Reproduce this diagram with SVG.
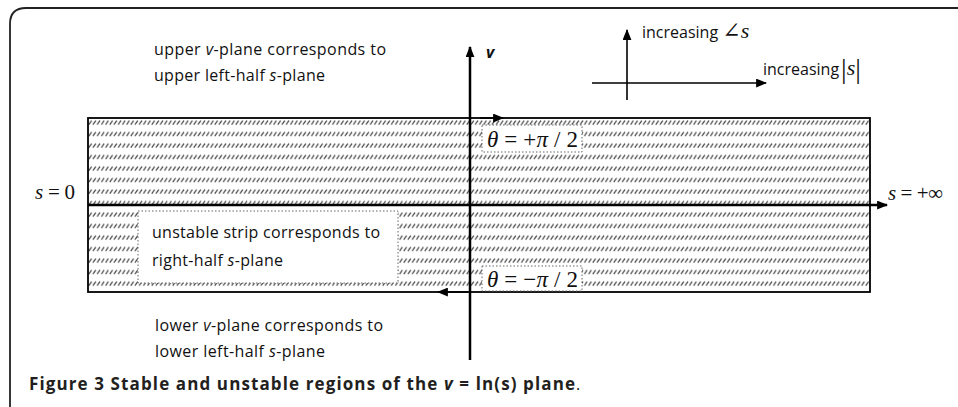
<svg xmlns="http://www.w3.org/2000/svg" width="958" height="407" viewBox="0 0 958 407">
<style>
.t{font-family:"Open Sans","Liberation Sans",sans-serif;font-size:16px;fill:#111}
.m{font-family:"Liberation Serif","DejaVu Serif",serif;fill:#111}
.i{font-style:italic}
.ax{stroke:#000;stroke-width:2.5;fill:none}
.ln{stroke:#000;stroke-width:1.6;fill:none}
.cap{font-family:"Open Sans","Liberation Sans",sans-serif;font-size:17px;font-weight:bold;fill:#231f20}
</style>
<defs>
<pattern id="hatch" patternUnits="userSpaceOnUse" x="0" y="118" width="4.2" height="11.5">
<line x1="0.6" y1="6.5" x2="3.4" y2="2.5" stroke="#444" stroke-width="1.2"/>
</pattern>
<marker id="ah" viewBox="0 0 10 8" refX="9" refY="4" markerWidth="11" markerHeight="9" markerUnits="userSpaceOnUse" orient="auto">
<path d="M0,0 L10,4 L0,8 Z" fill="#000"/>
</marker>
</defs>
<path d="M10 407 L10 24 Q10 8 26 8 L958 8" fill="none" stroke="#222" stroke-width="1.8"/>
<g id="strip">
<rect x="88" y="118" width="782" height="174" fill="url(#hatch)" stroke="#000" stroke-width="1.8"/>
</g>
<g id="unstable-label">
<rect x="138" y="211" width="260" height="72" fill="#fff" stroke="#666" stroke-width="1" stroke-dasharray="1.5 2"/>
<text class="t" x="152" y="238" textLength="228">unstable strip corresponds to</text>
<text class="t" x="152" y="266" textLength="131">right-half <tspan class="i">s</tspan>-plane</text>
</g>
<g id="theta-plus">
<rect x="482" y="125" width="100" height="27" fill="#fff" stroke="#666" stroke-width="1" stroke-dasharray="1.5 2"/>
<text class="m" x="487" y="147" font-size="23" textLength="91"><tspan class="i">θ</tspan> = +<tspan class="i">π</tspan> / 2</text>
</g>
<g id="theta-minus">
<rect x="482" y="266" width="100" height="25" fill="#fff" stroke="#666" stroke-width="1" stroke-dasharray="1.5 2"/>
<text class="m" x="487" y="287" font-size="23" textLength="91"><tspan class="i">θ</tspan> = −<tspan class="i">π</tspan> / 2</text>
</g>
<g id="connectors">
<line class="ax" x1="88" y1="205" x2="887" y2="205" marker-end="url(#ah)"/>
<line class="ax" x1="470" y1="360" x2="470" y2="47" marker-end="url(#ah)"/>
<line class="ln" x1="480" y1="118" x2="503" y2="118" marker-end="url(#ah)"/>
<line class="ln" x1="468" y1="292" x2="438" y2="292" marker-end="url(#ah)"/>
<line class="ln" x1="627" y1="100" x2="627" y2="30" marker-end="url(#ah)"/>
<line class="ln" x1="592" y1="83" x2="766" y2="83" marker-end="url(#ah)"/>
</g>
<g id="labels">
<text class="t" x="154" y="55" textLength="232">upper <tspan class="i">v</tspan>-plane corresponds to</text>
<text class="t" x="154" y="81" textLength="171">upper left-half <tspan class="i">s</tspan>-plane</text>
<text class="t" x="486" y="58" font-size="17" font-weight="bold" font-style="italic">v</text>
<text class="t" x="642" y="38" font-size="15.5">increasing <tspan class="m i" font-size="22">∠s</tspan></text>
<text class="t" x="763" y="75" font-size="15.5">increasing<tspan class="m" font-size="28" dx="2" dy="3">|</tspan><tspan class="m i" font-size="22" dy="-3">s</tspan><tspan class="m" font-size="28" dy="3">|</tspan></text>
<text class="m" x="35" y="199" font-size="21" textLength="40"><tspan class="i">s</tspan> = 0</text>
<text class="m" x="888" y="200" font-size="21" textLength="55"><tspan class="i">s</tspan> = +∞</text>
<text class="t" x="155" y="331" textLength="228">lower <tspan class="i">v</tspan>-plane corresponds to</text>
<text class="t" x="155" y="357" textLength="170">lower left-half <tspan class="i">s</tspan>-plane</text>
<text class="cap" x="29" y="390" textLength="546">Figure 3 Stable and unstable regions of the <tspan font-style="italic">v</tspan> = ln(s) plane</text><text class="t" x="576" y="390" font-size="16">.</text>
</g>
</svg>
